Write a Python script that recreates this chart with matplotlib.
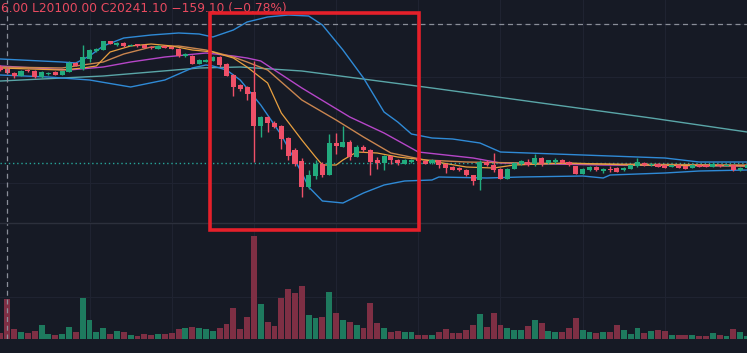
import matplotlib
matplotlib.use("Agg")
import matplotlib.pyplot as plt
import numpy as np
from matplotlib.patches import Rectangle
from matplotlib.lines import Line2D

# ---------------- data ----------------
opens = [20310,20270,20180,20130,20240,20220,20110,20170,20200,20150,
         20210,20390,20260,20470,20620,20650,20820,20750,20790,20730,
         20760,20750,20710,20670,20730,20710,20670,20530,20530,20370,
         20410,20430,20510,20370,20150,19940,19910,19810,19120,19310,
         19190,19130,18890,18640,18420,17910,18120,18370,18150,18790,
         18710,18810,18510,18710,18650,18440,18390,18520,18440,18370,
         18400,18480,18430,18390,18440,18370,18310,18280,18250,18140,
         18040,18410,18350,18270,18070,18270,18370,18410,18360,18490,
         18390,18410,18450,18410,18320,18170,18250,18310,18220,18270,
         18290,18240,18270,18320,18390,18340,18370,18340,18310,18340,
         18320,18290,18340,18340,18310,18340,18330,18340,18240,18290]
highs = [20340,20300,20200,20240,20260,20240,20220,20210,20220,20230,
         20420,20400,20750,20660,20680,20830,20830,20800,20800,20770,
         20770,20760,20720,20740,20740,20720,20680,20590,20540,20460,
         20460,20520,20520,20380,20160,19960,19920,20420,19320,19320,
         19230,19140,18900,18680,18480,18240,18440,18410,18970,18990,
         19130,18840,18740,18750,18660,18510,18540,18530,18470,18460,
         18470,18500,18440,18460,18450,18380,18320,18300,18260,18150,
         18450,18440,18590,18280,18280,18400,18450,18470,18560,18510,
         18450,18490,18460,18420,18330,18280,18320,18320,18280,18320,
         18300,18300,18350,18490,18400,18380,18380,18350,18350,18350,
         18330,18360,18350,18350,18400,18350,18360,18350,18300,18350]
lows = [20220,20160,20090,20120,20200,20090,20090,20150,20140,20140,
        20200,20320,20240,20410,20600,20640,20760,20720,20710,20720,
        20710,20680,20670,20660,20680,20660,20510,20510,20360,20360,
        20400,20420,20300,20120,19730,19830,19650,18410,18910,19010,
        19080,18670,18440,18320,17700,17870,18070,18100,18140,18560,
        18700,18440,18500,18610,18140,18270,18240,18370,18340,18360,
        18380,18400,18360,18370,18290,18190,18240,18220,18130,17940,
        17850,18320,18210,18060,18060,18260,18340,18320,18320,18320,
        18370,18370,18380,18330,18160,18160,18230,18220,18180,18210,
        18200,18220,18260,18310,18320,18320,18300,18280,18300,18280,
        18260,18280,18300,18300,18300,18300,18320,18230,18220,18280]
closes = [20250,20180,20130,20220,20220,20110,20200,20190,20150,20220,
          20390,20330,20510,20640,20670,20820,20770,20780,20720,20750,
          20720,20690,20680,20730,20690,20670,20520,20560,20370,20450,
          20450,20510,20350,20130,19910,19870,19770,19120,19310,19180,
          19110,18870,18530,18360,17900,18150,18370,18140,18790,18720,
          18810,18510,18710,18640,18410,18390,18520,18440,18390,18440,
          18450,18420,18370,18440,18340,18290,18250,18240,18140,18030,
          18410,18340,18250,18070,18270,18390,18420,18340,18490,18370,
          18440,18450,18390,18340,18170,18270,18310,18240,18270,18240,
          18210,18290,18340,18410,18340,18370,18310,18290,18340,18290,
          18270,18340,18310,18310,18360,18320,18350,18240,18290,18340]
volumes = [6,40,10,7,6,8,14,5,4,5,
           12,7,41,19,7,11,5,8,7,4,
           3,5,4,5,5,6,10,11,12,11,
           10,8,11,15,31,10,22,103,35,17,
           13,41,50,46,53,24,21,22,47,26,
           19,17,14,11,36,16,11,7,8,7,
           7,4,4,4,7,10,6,6,9,14,
           25,12,26,14,11,9,9,13,19,16,
           8,7,7,11,21,9,7,6,7,7,
           14,9,5,11,6,8,9,8,4,4,
           4,4,3,3,6,4,3,10,7,3]

# indicator lines (value at candle index)
bb_upper_idx = [0,9,11,13,15,18,22,26,29,31,34,36,39,42,45,47,50,53,56,58,60,63,66,70,73,77,85,97,102,109]
bb_upper = [20460,20400,20380,20520,20720,20880,20940,20980,20960,20900,21040,21200,21300,21340,21320,
            21140,20640,20080,19400,19200,18960,18880,18860,18780,18600,18580,18540,18480,18400,18400]
bb_lower_idx = [0,7,13,19,24,28,30,31,33,35,38,41,44,45,47,50,53,56,59,63,64,71,76,85,88,89,97,102,109]
bb_lower = [20140,20100,20040,19900,20040,20280,20340,20320,20240,20040,19540,18940,18180,17900,17620,
            17580,17780,17940,18020,18040,18100,18080,18100,18120,18080,18140,18180,18220,18240]
ma_long_idx = [0,15,29,35,44,63,80,95,109]
ma_long = [20020,20120,20280,20300,20220,19880,19560,19280,19000]
ma_fast_idx = [0,9,12,14,16,19,22,25,28,31,34,36,39,41,44,46,47,49,50,52,55,58,62,68,72,75,83,92,109]
ma_fast = [20280,20240,20280,20320,20600,20720,20760,20720,20640,20600,20480,20300,19980,19380,18840,
           18500,18340,18340,18440,18600,18580,18500,18440,18300,18280,18340,18380,18340,18320]
ma_mid_idx = [0,9,15,18,22,26,30,34,36,39,41,44,49,53,57,62,68,76,88,109]
ma_mid = [20300,20280,20400,20560,20700,20720,20640,20500,20400,20240,20000,19640,19240,18900,18580,
          18440,18400,18380,18360,18340]
ma_slow_idx = [0,10,15,19,24,30,34,36,38,44,51,56,61,69,73,88,109]
ma_slow = [20320,20240,20300,20400,20500,20580,20520,20480,20420,19880,19300,18980,18600,18480,18380,
           18340,18320]

last_price = 18380
crosshair_price = 21160
crosshair_index = 1
header = "6.00 L20100.00 C20241.10 \u2212159.10 (\u22120.78%)"

# ---------------- style ----------------
BG = "#161a25"
UP = "#22ab7e"
DOWN = "#ef5068"
VOL_UP = "#1e7a5e"
VOL_DOWN = "#7e2f44"
GRID = "#1f2331"

W, H = 747, 353
fig = plt.figure(figsize=(W / 100, H / 100), dpi=100, facecolor=BG)
ax = fig.add_axes([0, 131 / H, 1, 222 / H], facecolor=BG)
axv = fig.add_axes([0, 14 / H, 1, 116 / H], facecolor=BG)

n = len(opens)
x = np.arange(n)
o = np.array(opens, float); c = np.array(closes, float)
hi = np.array(highs, float); lo = np.array(lows, float)
up = c >= o
cols = np.where(up, UP, DOWN)

xl = (-0.07, 108.99)
for a in (ax, axv):
    a.set_xlim(*xl)
    for s in a.spines.values():
        s.set_visible(False)
    a.set_xticks([]); a.set_yticks([])
    for g in [13, 25, 37, 49, 61, 73, 85, 97]:
        a.axvline(g, color=GRID, lw=0.8, zorder=0)

ax.set_ylim(17200, 21640)
for gy in [21160, 20100, 19040, 17980]:
    ax.axhline(gy, color=GRID, lw=0.8, zorder=0)
axv.set_ylim(0, 116)
axv.axhline(42, color=GRID, lw=0.8, zorder=0)

# indicator lines
ax.plot(ma_long_idx, ma_long, color="#5aa6a8", lw=1.0, zorder=2)
ax.plot(bb_upper_idx, bb_upper, color="#2f8ad6", lw=1.0, zorder=2)
ax.plot(bb_lower_idx, bb_lower, color="#2f8ad6", lw=1.0, zorder=2)
ax.plot(ma_slow_idx, ma_slow, color="#b646c8", lw=1.0, zorder=2)
ax.plot(ma_mid_idx, ma_mid, color="#c9854f", lw=1.0, zorder=2)
ax.plot(ma_fast_idx, ma_fast, color="#e8a040", lw=0.9, zorder=2)

# candles
ax.vlines(x, lo, hi, colors=cols, lw=1.0, zorder=3)
body_h = np.maximum(np.abs(c - o), 12)
ax.bar(x, body_h, bottom=np.minimum(o, c), width=0.74, color=cols, edgecolor=cols, lw=0, zorder=4)

# last price line and crosshair
ax.axhline(last_price, color="#26a69a", lw=1.0, ls=(0, (1, 2)), zorder=1)
ax.axhline(crosshair_price, color="#8a8e99", lw=0.9, ls=(0, (4, 3)), zorder=5)
for a in (ax, axv):
    a.axvline(crosshair_index, color="#8a8e99", lw=0.9, ls=(0, (4, 3)), zorder=5)

# volume
axv.bar(x, volumes, width=0.86, color=np.where(up, VOL_UP, VOL_DOWN), lw=0, zorder=2)

# pane separator
fig.add_artist(Line2D([0, 1], [1 - 222.5 / H, 1 - 222.5 / H], transform=fig.transFigure,
                      color="#2c303c", lw=1.0))

# header text
fig.text(1 / W, 1 - 8.5 / H, header, color="#e84a5f", fontsize=8.8, va="center", ha="left",
         family="DejaVu Sans")

# red highlight box
fig.add_artist(Rectangle((209.5 / W, 1 - 230 / H), 209 / W, 217 / H, transform=fig.transFigure,
                         fill=False, edgecolor="#e5202a", lw=2.6, zorder=10))

fig.savefig("out.png", dpi=100, facecolor=BG)
